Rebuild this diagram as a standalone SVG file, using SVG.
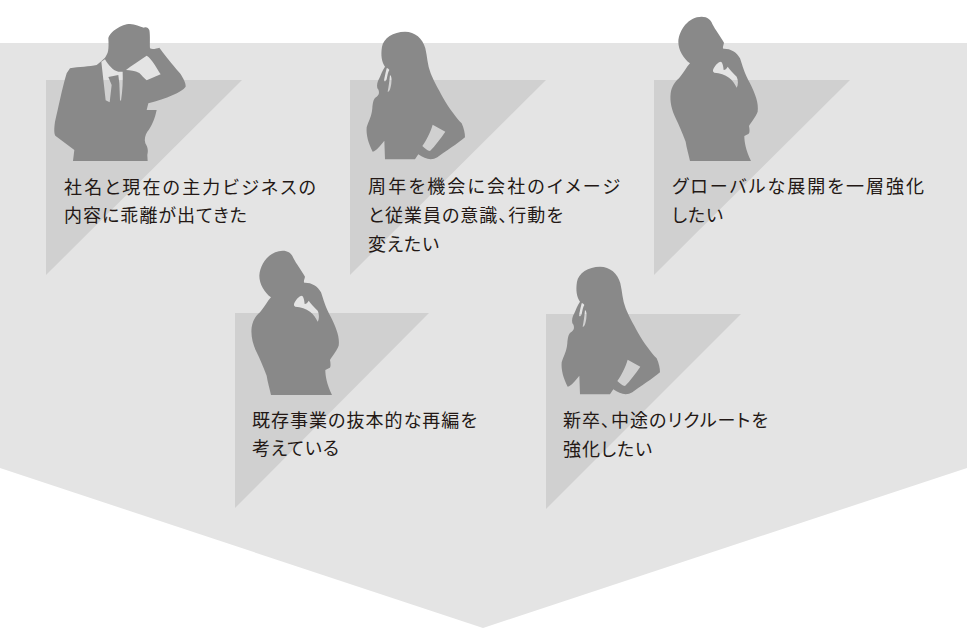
<svg xmlns="http://www.w3.org/2000/svg" width="967" height="628" viewBox="0 0 967 628">
<style>
.tri{fill:#d0d0d0}
.sil{fill:#898989}
text{font-family:"Noto Sans CJK JP","Noto Sans",sans-serif;font-size:18px;font-weight:400;fill:#231815;font-feature-settings:"palt"}
</style>
<defs>
<path id="woman" transform="translate(350,20) scale(0.3333)" fill-rule="evenodd" d="M165 35 C195 35 218 55 226 85 C232 110 232 135 242 160 C252 185 264 205 280 235 C297 265 320 295 335 310 C342 325 345 340 345 352 C325 370 285 395 262 412 C245 422 225 418 205 403 L195 418 L105 418 L103 362 C90 378 80 392 68 395 C55 370 48 345 50 322 C55 305 65 290 67 265 C68 250 70 235 80 230 C90 225 88 210 82 205 C80 195 82 185 88 175 C92 165 98 150 105 140 C95 125 92 105 96 80 C100 55 130 35 165 35 Z M110 145 C105 165 103 178 102 182 C104 186 108 184 110 178 C112 168 114 155 118 150 C116 146 112 144 110 145 Z M120 165 C118 185 116 200 113 215 C118 218 122 205 124 190 C126 175 124 168 120 165 Z M286 335 L248 314 C242 335 230 360 217 378 C225 385 232 392 240 393 C255 378 272 355 286 335 Z"/>
<path id="thinker" transform="translate(655,10) scale(0.3333)" fill-rule="evenodd" d="M140 20 C158 20 168 30 172 42 C180 58 198 82 207 98 C205 108 202 112 205 116 C225 115 245 125 255 145 C262 165 268 190 285 220 C300 250 312 280 308 305 C300 325 285 340 282 348 C284 358 285 370 280 372 L268 378 C268 395 272 420 288 453 L105 453 C100 430 95 415 92 395 C82 370 72 345 62 325 C50 300 44 275 47 250 C50 230 60 215 72 205 C85 190 95 170 105 160 C85 145 70 120 70 95 C72 60 100 20 140 20 Z M178 172 C173 180 172 185 178 188 C195 188 210 195 222 203 C232 210 240 222 245 233 C250 225 250 210 245 200 C235 190 225 180 218 170 C215 175 212 180 206 180 C205 170 203 158 198 155 C190 155 182 165 178 172 Z"/>
</defs>
<g id="background"><polygon points="0,43 967,43 967,468 483,628 0,468" fill="#e4e4e4"/></g>
<g id="node-1">
<polygon class="tri" points="46,80 242,80 46,275"/>
<path class="sil" fill-rule="evenodd" transform="translate(40,15) scale(0.3333)" d="M270 27 C285 27 300 35 312 38 C320 35 325 40 328 45 C331 60 329 85 330 100 C338 105 350 100 358 98 C370 115 395 145 420 175 C430 190 438 205 437 215 C425 232 380 250 325 265 L320 285 L350 285 C345 310 335 335 322 350 C316 360 312 372 316 385 C322 395 326 405 322 420 L323 438 L99 438 L103 405 L46 362 C42 355 42 340 45 320 C55 280 65 225 80 175 L90 160 C115 155 150 155 170 150 L182 140 L195 128 C205 115 207 105 205 70 C210 50 245 27 270 27 Z M184 140 L195 133 C205 150 220 168 235 170 L248 170 C249 195 248 225 243 258 L240 255 L238 205 L235 180 L205 186 L215 210 L209 262 L197 256 Z M258 165 C275 152 300 135 320 122 C335 130 350 160 362 178 L320 196 C312 190 305 180 298 174 C285 167 270 166 258 165 Z"/>
<text x="64" y="194" textLength="252">社名と現在の主力ビジネスの</text>
<text x="64" y="222" textLength="183">内容に乖離が出てきた</text>
</g>
<g id="node-2">
<polygon class="tri" points="350,80 546,80 350,275"/>
<use href="#woman" class="sil"/>
<text x="368" y="193" textLength="252">周年を機会に会社のイメージ</text>
<text x="368" y="222" textLength="195">と従業員の意識、行動を</text>
<text x="368" y="251" textLength="71">変えたい</text>
</g>
<g id="node-3">
<polygon class="tri" points="654,80 850,80 654,275"/>
<use href="#thinker" class="sil"/>
<text x="672" y="193" textLength="252">グローバルな展開を一層強化</text>
<text x="672" y="222" textLength="51">したい</text>
</g>
<g id="node-4">
<polygon class="tri" points="235,313 429,313 235,508"/>
<use href="#thinker" class="sil" x="-419" y="234"/>
<text x="252" y="427" textLength="225">既存事業の抜本的な再編を</text>
<text x="252" y="455" textLength="87">考えている</text>
</g>
<g id="node-5">
<polygon class="tri" points="546,314 741,314 546,509"/>
<use href="#woman" class="sil" x="195" y="235"/>
<text x="563" y="427" textLength="205">新卒、中途のリクルートを</text>
<text x="563" y="456" textLength="89">強化したい</text>
</g>
<g id="connectors"></g>
</svg>
